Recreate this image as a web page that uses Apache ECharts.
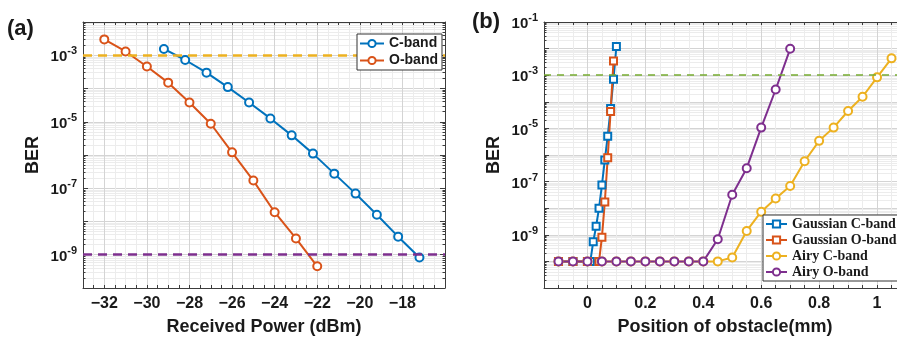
<!DOCTYPE html>
<html>
<head>
<meta charset="utf-8">
<script src="https://cdn.jsdelivr.net/npm/echarts@6/dist/echarts.min.js"></script>
<style>
  html, body { margin: 0; padding: 0; background: #fff; }
  #chart { width: 897px; height: 337px; }
</style>
</head>
<body>
<div id="chart"></div>
<script>
// ---- panel (a): BER vs received power ----
const powerO = [-32, -31, -30, -29, -28, -27, -26, -25, -24, -23, -22];
const berO = [3.0e-3, 1.3e-3, 4.6e-4, 1.5e-4, 3.8e-5, 8.7e-6, 1.2e-6, 1.7e-7, 1.9e-8, 3.1e-9, 4.5e-10];
const powerC = [-29.2, -28.2, -27.2, -26.2, -25.2, -24.2, -23.2, -22.2, -21.2, -20.2, -19.2, -18.2, -17.2];
const berC = [1.55e-3, 7.2e-4, 3.0e-4, 1.1e-4, 3.8e-5, 1.26e-5, 3.9e-6, 1.1e-6, 2.75e-7, 6.9e-8, 1.6e-8, 3.5e-9, 8.3e-10];
const thresholdsA = [1e-3, 1e-9];
const xTicksA = [-32, -30, -28, -26, -24, -22, -20, -18];
const yLabelsA = [-3, -5, -7, -9];

// ---- panel (b): BER vs obstacle position ----
const posGC = [-0.1, -0.05, 0, 0.01, 0.02, 0.03, 0.04, 0.05, 0.06, 0.07, 0.08, 0.09, 0.1];
const berGC = [1e-10, 1e-10, 1e-10, 1e-10, 5.5e-10, 2.1e-9, 1e-8, 7.4e-8, 6.5e-7, 5.1e-6, 5.6e-5, 7.1e-4, 1.2e-2];
const posGO = [-0.1, -0.05, 0, 0.04, 0.05, 0.06, 0.07, 0.08, 0.09];
const berGO = [1e-10, 1e-10, 1e-10, 1e-10, 8.1e-10, 1.7e-8, 7.9e-7, 4.3e-5, 3.4e-3];
const posAC = [-0.1, -0.05, 0, 0.05, 0.1, 0.15, 0.2, 0.25, 0.3, 0.35, 0.4, 0.45,
               0.5, 0.55, 0.6, 0.65, 0.7, 0.75, 0.8, 0.85, 0.9, 0.95, 1.0, 1.05];
const berAC = [1e-10, 1e-10, 1e-10, 1e-10, 1e-10, 1e-10, 1e-10, 1e-10, 1e-10, 1e-10, 1e-10, 1e-10,
               1.4e-10, 1.4e-9, 7.4e-9, 2.3e-8, 6.8e-8, 5.8e-7, 3.4e-6, 1.07e-5, 4.5e-5, 1.55e-4, 8.3e-4, 4.3e-3];
const posAO = [-0.1, -0.05, 0, 0.05, 0.1, 0.15, 0.2, 0.25, 0.3, 0.35, 0.4, 0.45, 0.5, 0.55, 0.6, 0.65, 0.7];
const berAO = [1e-10, 1e-10, 1e-10, 1e-10, 1e-10, 1e-10, 1e-10, 1e-10, 1e-10, 1e-10, 1e-10,
               6.8e-10, 3.2e-8, 3.2e-7, 1.07e-5, 2.9e-4, 9.8e-3];
const thresholdsB = [1e-3];
const xTicksB = [0, 0.2, 0.4, 0.6, 0.8, 1];
const yLabelsB = [-1, -3, -5, -7, -9];

const SANS = 'Liberation Sans';
const SERIF = 'Liberation Serif';
const BLUE = '#0072BD', ORANGE = '#D95319', YELLOW = '#EDB120', PURPLE = '#7E2F8E', GREEN = '#77AC30';
const AXIS = '#3c3c3c';
const MAJOR = '#d4d4d4';
const MINOR = '#ececec';

const chart = echarts.init(document.getElementById('chart'));

const supRich = {
  b: { fontSize: 15, fontWeight: 'bold', fontFamily: SANS, color: '#1a1a1a', padding: [4, 0, 0, 0] },
  s: { fontSize: 11, fontWeight: 'bold', fontFamily: SANS, color: '#1a1a1a', padding: [0, 0, 8, 0] }
};
const nameStyle = { fontSize: 18, fontWeight: 'bold', fontFamily: SANS, color: '#1a1a1a' };

function logAxis(gridIndex, min, max, exps, mirror) {
  return {
    type: 'log', logBase: 10, gridIndex, min, max, interval: 1,
    position: mirror ? 'right' : 'left',
    axisLine: { show: true, onZero: false, lineStyle: { color: AXIS, width: 1 } },
    axisTick: { show: true, inside: true, length: 5, lineStyle: { color: AXIS } },
    minorTick: { show: true, splitNumber: 9, length: 2.5, lineStyle: { color: AXIS } },
    axisLabel: {
      show: !mirror, margin: 6, rich: supRich,
      formatter: v => {
        const e = Math.round(Math.log10(v));
        return exps.includes(e) ? '{b|10}{s|' + e + '}' : '';
      }
    },
    splitLine: { show: !mirror, lineStyle: { color: MAJOR, width: 1 } },
    minorSplitLine: { show: !mirror, lineStyle: { color: MINOR, width: 1 } },
    name: mirror ? '' : 'BER', nameLocation: 'middle', nameGap: 41, nameTextStyle: nameStyle
  };
}

function linAxis(gridIndex, min, max, step, period, majorAt, ticks, name, mirror) {
  const colors = [];
  for (let i = 0; i < period; i++) colors.push(i === majorAt ? MAJOR : MINOR);
  return {
    type: 'value', gridIndex, min, max, interval: step,
    position: mirror ? 'top' : 'bottom',
    axisLine: { show: true, onZero: false, lineStyle: { color: AXIS, width: 1 } },
    axisTick: { show: true, inside: true, length: 3, lineStyle: { color: AXIS } },
    axisLabel: {
      show: !mirror, margin: 8, fontSize: 16, fontWeight: 'bold', fontFamily: SANS, color: '#1a1a1a',
      formatter: v => {
        const t = ticks.find(k => Math.abs(k - v) < 1e-6);
        return t === undefined ? '' : String(t).replace('-', '\u2212');
      }
    },
    splitLine: { show: !mirror, lineStyle: { color: colors, width: 1 } },
    name: mirror ? '' : name, nameLocation: 'middle', nameGap: 30, nameTextStyle: nameStyle
  };
}

function pts(xs, ys) { return xs.map((x, i) => [x, ys[i]]); }

function lineSeries(name, axis, xs, ys, color, symbol, size) {
  return {
    name, type: 'line', xAxisIndex: axis, yAxisIndex: axis,
    data: pts(xs, ys), symbol, symbolSize: size, showSymbol: true,
    lineStyle: { color, width: 2 },
    itemStyle: { color, borderColor: color, borderWidth: 1.6 },
    emphasis: { disabled: true }, z: 3
  };
}

// threshold lines; precision kept high so tiny BER values are not rounded to 0
function dashed(values, color, width, dash) {
  return {
    silent: true, symbol: 'none', precision: 15, label: { show: false },
    data: values.map(v => ({ yAxis: v, lineStyle: { color, width, type: dash } }))
  };
}

const sC = lineSeries('C-band', 0, powerC, berC, BLUE, 'emptyCircle', 8);
sC.markLine = dashed([thresholdsA[0]], YELLOW, 2.5, [9, 6]);
const sO = lineSeries('O-band', 0, powerO, berO, ORANGE, 'emptyCircle', 8);
sO.markLine = dashed([thresholdsA[1]], PURPLE, 2.5, [9, 6]);

const sGC = lineSeries('Gaussian C-band', 1, posGC, berGC, BLUE, 'emptyRect', 7);
sGC.markLine = dashed(thresholdsB, GREEN, 1.5, [7, 6]);
const sGO = lineSeries('Gaussian O-band', 1, posGO, berGO, ORANGE, 'emptyRect', 7);
const sAC = lineSeries('Airy C-band', 1, posAC, berAC, YELLOW, 'emptyCircle', 8);
const sAO = lineSeries('Airy O-band', 1, posAO, berAO, PURPLE, 'emptyCircle', 8);

chart.setOption({
  animation: false,
  backgroundColor: '#fff',
  textStyle: { fontFamily: SANS },
  grid: [
    { left: 83, top: 22, width: 362, height: 266, outerBoundsMode: 'none', containLabel: false },
    { left: 544, top: 22, width: 362, height: 266, outerBoundsMode: 'none', containLabel: false }
  ],
  xAxis: [
    linAxis(0, -33, -16, 0.5, 4, 2, xTicksA, 'Received Power (dBm)', false),
    linAxis(1, -0.15, 1.1, 0.05, 4, 3, xTicksB, 'Position of obstacle(mm)', false),
    linAxis(0, -33, -16, 0.5, 4, 2, xTicksA, '', true),
    linAxis(1, -0.15, 1.1, 0.05, 4, 3, xTicksB, '', true)
  ],
  yAxis: [
    logAxis(0, 1e-10, 1e-2, yLabelsA, false),
    logAxis(1, 1e-11, 1e-1, yLabelsB, false),
    logAxis(0, 1e-10, 1e-2, yLabelsA, true),
    logAxis(1, 1e-11, 1e-1, yLabelsB, true)
  ],
  legend: [
    {
      data: ['C-band', 'O-band'], orient: 'vertical', left: 357, top: 34, z: 20,
      padding: [2, 4, 2, 2], itemGap: 2, itemWidth: 24, itemHeight: 9, itemTextGap: 3,
      backgroundColor: '#fff', borderColor: '#333', borderWidth: 1, borderRadius: 0,
      selectedMode: false,
      textStyle: { fontSize: 14, fontWeight: 'bold', fontFamily: SANS, color: '#1a1a1a', lineHeight: 15 }
    },
    {
      data: ['Gaussian C-band', 'Gaussian O-band', 'Airy C-band', 'Airy O-band'], orient: 'vertical',
      left: 763, top: 215, z: 20,
      padding: [2, 2, 2, 2], itemGap: 2, itemWidth: 21, itemHeight: 9, itemTextGap: 2,
      backgroundColor: '#fff', borderColor: '#333', borderWidth: 1, borderRadius: 0,
      selectedMode: false,
      textStyle: { fontSize: 14, fontWeight: 'bold', fontFamily: SERIF, color: '#1a1a1a', lineHeight: 14 }
    }
  ],
  graphic: [
    { type: 'text', left: 7, top: 18, style: { text: '(a)', font: 'bold 22px "Liberation Sans"', fill: '#1a1a1a' } },
    { type: 'text', left: 472, top: 11, style: { text: '(b)', font: 'bold 22px "Liberation Sans"', fill: '#1a1a1a' } }
  ],
  series: [sC, sO, sGC, sGO, sAC, sAO]
});
</script>
</body>
</html>
